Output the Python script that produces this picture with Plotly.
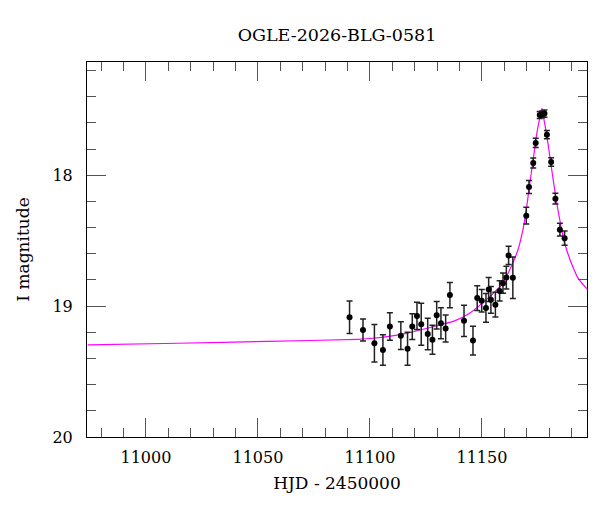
import plotly.graph_objects as go

# Photometry (HJD - 2450000, I mag, error)
hjd = [11090.9, 11096.9, 11102.0, 11105.8, 11108.9, 11113.8, 11116.8, 11118.9,
       11121.0, 11122.9, 11125.8, 11127.9, 11129.8, 11131.7, 11133.8, 11135.7,
       11142.0, 11146.0, 11147.9, 11149.9, 11151.8, 11153.0, 11154.0, 11156.0,
       11157.9, 11159.4, 11160.9, 11161.9, 11163.8, 11169.8, 11171.0, 11172.9,
       11174.0, 11175.8, 11176.9, 11177.9, 11179.0, 11180.9, 11182.8, 11184.8,
       11186.9]
mag = [19.085, 19.182, 19.284, 19.336, 19.157, 19.226, 19.326, 19.157,
       19.075, 19.139, 19.213, 19.257, 19.070, 19.131, 19.172, 18.916,
       19.113, 19.264, 18.939, 18.960, 19.014, 18.874, 18.952, 18.989,
       18.884, 18.825, 18.782, 18.613, 18.784, 18.309, 18.090, 17.907,
       17.753, 17.540, 17.535, 17.529, 17.690, 17.899, 18.179, 18.416,
       18.481]
err = [0.124, 0.084, 0.144, 0.116, 0.105, 0.106, 0.126, 0.098,
       0.105, 0.161, 0.120, 0.111, 0.105, 0.119, 0.103, 0.097,
       0.120, 0.110, 0.094, 0.086, 0.110, 0.092, 0.102, 0.095,
       0.077, 0.077, 0.087, 0.070, 0.158, 0.064, 0.049, 0.038,
       0.036, 0.026, 0.026, 0.028, 0.032, 0.033, 0.042, 0.049,
       0.054]

# Model curve samples
model_t = [10974.0, 11014.2, 11054.4, 11094.5, 11101.3, 11116.25, 11131.1, 11137.8,
           11144.5, 11152.7, 11158.7, 11162.4, 11163.8, 11166.1, 11168.3, 11169.8,
           11171.3, 11173.1, 11174.3, 11175.5, 11176.8, 11177.75, 11178.75, 11180.5,
           11182.9, 11185.0, 11186.9, 11189.9, 11192.9, 11196.9]
model_m = [19.297, 19.284, 19.270, 19.254, 19.246, 19.208, 19.144, 19.113,
           19.054, 18.939, 18.838, 18.723, 18.671, 18.570, 18.416, 18.263,
           18.071, 17.854, 17.701, 17.588, 17.489, 17.581, 17.675, 17.880,
           18.161, 18.365, 18.518, 18.671, 18.786, 18.868]

title_text = "OGLE-2026-BLG-0581"
x_label = "HJD - 2450000"
y_label = "I magnitude"

FONT = "DejaVu Serif"

fig = go.Figure()
fig.add_trace(go.Scatter(
    x=model_t, y=model_m, mode="lines",
    line=dict(color="#ff00ff", width=1.2, shape="spline", smoothing=0.7),
    hoverinfo="skip", showlegend=False))
fig.add_trace(go.Scatter(
    x=hjd, y=mag, mode="markers",
    marker=dict(color="black", size=6),
    error_y=dict(type="data", array=err, visible=True, color="#222222",
                 thickness=1.5, width=3),
    showlegend=False))

axis_common = dict(
    showgrid=False, zeroline=False, showline=True, linecolor="black", linewidth=1,
    mirror="allticks", ticks="inside", ticklen=19, tickwidth=1, tickcolor="#555555",
    tickfont=dict(family=FONT, size=16, color="black"),
)

fig.update_layout(
    width=600, height=512,
    margin=dict(l=87, r=13, t=62, b=75),
    paper_bgcolor="white", plot_bgcolor="white",
    font=dict(family=FONT, color="black"),
    title=dict(text=title_text, x=0.5, xref="paper", xanchor="center",
               y=1 - 35 / 512, yref="container", yanchor="middle",
               font=dict(family=FONT, size=17.5, color="black")),
    xaxis=dict(range=[10973.7, 11196.9], tick0=11000, dtick=50, tickformat="d",
               minor=dict(dtick=10, ticks="inside", ticklen=9, tickcolor="#555555", showgrid=False),
               ticklabelstandoff=6,
               title=dict(text=x_label, font=dict(family=FONT, size=17, color="black"), standoff=10),
               **axis_common),
    yaxis=dict(range=[20.0005, 17.135], tick0=18, dtick=1, tickformat="d",
               minor=dict(dtick=0.2, ticks="inside", ticklen=9, tickcolor="#555555", showgrid=False),
               ticklabelstandoff=10,
               title=dict(text=y_label, font=dict(family=FONT, size=17, color="black"), standoff=18),
               **axis_common),
)

fig.write_html("out.html")
